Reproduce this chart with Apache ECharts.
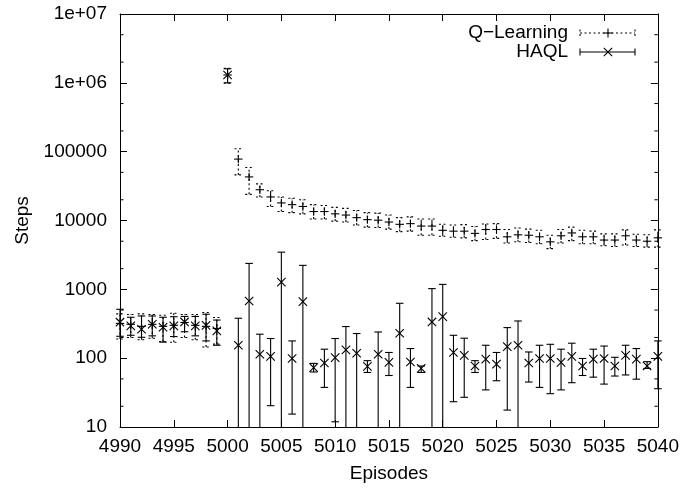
<!DOCTYPE html>
<html>
<head>
<meta charset="utf-8">
<title>Steps per episode</title>
<script src="https://cdn.jsdelivr.net/npm/echarts@6/dist/echarts.min.js"></script>
<style>
  html, body { margin: 0; padding: 0; background: #fff; }
  #chart { width: 682px; height: 488px; }
</style>
</head>
<body>
<div id="chart"></div>
<script>
// episodes on the x axis
const episodes = [
  4990, 4991, 4992, 4993, 4994, 4995, 4996, 4997, 4998, 4999,
  5000, 5001, 5002, 5003, 5004, 5005, 5006, 5007, 5008, 5009,
  5010, 5011, 5012, 5013, 5014, 5015, 5016, 5017, 5018, 5019,
  5020, 5021, 5022, 5023, 5024, 5025, 5026, 5027, 5028, 5029,
  5030, 5031, 5032, 5033, 5034, 5035, 5036, 5037, 5038, 5039,
  5040
]

// Q-Learning: mean steps and error bar ends
const qMean = [
  320, 310, 290, 310, 290, 300, 330, 300, 290, 270,
  1300000, 78000, 43000, 28000, 22000, 18000, 17000, 16000, 13500, 13500,
  12500, 12000, 11000, 10300, 10100, 9500, 8800, 9000, 8300, 8300,
  7200, 7000, 7000, 6500, 7400, 7400, 5800, 6200, 6100, 5800,
  4900, 6000, 6600, 5800, 5800, 5200, 5200, 6000, 5200, 5000,
  5600
]
const qLow = [
  190, 200, 185, 195, 175, 170, 200, 185, 145, 160,
  990000, 46000, 24000, 22000, 16000, 13500, 13000, 12500, 10500, 10500,
  9800, 9500, 8600, 8000, 7900, 7500, 6900, 7000, 6100, 6100,
  5900, 5700, 5600, 5100, 5300, 5500, 4700, 4900, 4800, 4600,
  3900, 4700, 5100, 4600, 4600, 4300, 4200, 4400, 4200, 4100,
  4100
]
const qHigh = [
  440, 430, 440, 430, 420, 450, 430, 430, 460, 390,
  1630000, 110000, 59000, 34000, 27000, 22000, 21000, 20000, 17000, 16500,
  15500, 15000, 14000, 13000, 12800, 12000, 11000, 11300, 10500, 10500,
  8800, 8600, 8700, 8200, 8900, 9000, 7400, 7800, 7500, 7200,
  6100, 7400, 8000, 7200, 7000, 6400, 6400, 7300, 6300, 6200,
  7300
]

// HAQL: mean steps and error bar ends (0 = runs below the plotted range)
const haqlMean = [
  333, 294, 263, 311, 281, 294, 336, 294, 300, 249,
  1300000, 154, 677, 114, 106, 1275, 99, 663, 73, 85,
  102, 132, 118, 76, 114, 87, 230, 88, 71, 336,
  402, 121, 110, 77, 97, 82, 147, 154, 85, 99,
  99, 87, 106, 77, 97, 99, 77, 110, 97, 77,
  106
]
const haqlLow = [
  208, 215, 201, 211, 171, 206, 242, 211, 178, 154,
  1000000, 0, 0, 0, 20.4, 0, 15.4, 0, 63, 37.6,
  11.9, 0, 0, 62, 0, 56, 0, 37.6, 62, 0,
  0, 23.3, 27, 62, 34.6, 47, 17.6, 0, 45, 37.6,
  30.5, 34.6, 44, 56, 53, 42, 55, 57, 49.5, 71,
  36
]
const haqlHigh = [
  513, 393, 410, 410, 393, 400, 404, 404, 435, 358,
  1600000, 380, 2380, 223, 193, 3470, 178, 2230, 84, 135,
  193, 288, 228, 92, 240, 121, 627, 138, 77, 1024,
  1180, 215, 195, 92, 154, 121, 278, 347, 123, 154,
  159, 135, 165, 99, 135, 150, 103, 154, 138, 89,
  178
]

// y axis ticks (log scale)
const yTicks = [10, 100, 1000, 10000, 100000, 1000000, 10000000]
const yLabels = ['10', '100', '1000', '10000', '100000', '1e+06', '1e+07']
const yMinorTicks = [20, 50, 200, 500, 2000, 5000, 20000, 50000, 200000, 500000, 2000000, 5000000]

const Y_MIN = yTicks[0]
const Y_MAX = yTicks[yTicks.length - 1]
const FONT = 'Liberation Sans, Arial, Helvetica, sans-serif'
const FONT_SIZE = 19

const chart = echarts.init(document.getElementById('chart'), null, { renderer: 'canvas' })

// error bar + marker drawn with the axes' own coord()
const errorBar = (marker, dash) => (params, api) => {
  const x = api.value(0)
  const low = api.value(2)
  const high = api.value(3)
  const mid = api.coord([x, api.value(1)])
  const pLo = api.coord([x, Math.max(low, Y_MIN)])
  const pHi = api.coord([x, Math.min(high, Y_MAX)])
  const cap = 3.8
  const m = 4.2
  const barStyle = { stroke: '#000', lineWidth: 1.1, lineDash: dash }
  const markStyle = { stroke: '#000', lineWidth: 1.1 }
  const children = [
    { type: 'line', shape: { x1: pLo[0], y1: pLo[1], x2: pHi[0], y2: pHi[1] }, style: barStyle }
  ]
  if (high <= Y_MAX) {
    children.push({ type: 'line', shape: { x1: pHi[0] - cap, y1: pHi[1], x2: pHi[0] + cap, y2: pHi[1] }, style: barStyle })
  }
  if (low >= Y_MIN) {
    children.push({ type: 'line', shape: { x1: pLo[0] - cap, y1: pLo[1], x2: pLo[0] + cap, y2: pLo[1] }, style: barStyle })
  }
  if (marker === 'plus') {
    children.push({ type: 'line', shape: { x1: mid[0] - m, y1: mid[1], x2: mid[0] + m, y2: mid[1] }, style: markStyle })
    children.push({ type: 'line', shape: { x1: mid[0], y1: mid[1] - m, x2: mid[0], y2: mid[1] + m }, style: markStyle })
  } else {
    children.push({ type: 'line', shape: { x1: mid[0] - m, y1: mid[1] - m, x2: mid[0] + m, y2: mid[1] + m }, style: markStyle })
    children.push({ type: 'line', shape: { x1: mid[0] - m, y1: mid[1] + m, x2: mid[0] + m, y2: mid[1] - m }, style: markStyle })
  }
  return { type: 'group', children }
}

// minor ticks at 2 and 5 of each decade, on left and right border
const minorTick = (params, api) => {
  const left = api.coord([episodes[0], api.value(1)])
  const right = api.coord([episodes[episodes.length - 1], api.value(1)])
  const len = 3.5
  const style = { stroke: '#000', lineWidth: 1 }
  return {
    type: 'group',
    children: [
      { type: 'line', shape: { x1: left[0], y1: left[1], x2: left[0] + len, y2: left[1] }, style },
      { type: 'line', shape: { x1: right[0] - len, y1: right[1], x2: right[0], y2: right[1] }, style }
    ]
  }
}

const qData = episodes.map((e, i) => [e, qMean[i], qLow[i], qHigh[i]])
const haqlData = episodes.map((e, i) => [e, haqlMean[i], haqlLow[i], haqlHigh[i]])

const axisLineStyle = { color: '#000', width: 1 }
const labelStyle = { color: '#000', fontSize: FONT_SIZE, fontFamily: FONT }

const option = {
  animation: false,
  backgroundColor: '#fff',
  grid: { left: 120, right: 24, top: 14, bottom: 60, containLabel: false },
  xAxis: [
    {
      type: 'value',
      min: 4990,
      max: 5040,
      interval: 5,
      position: 'bottom',
      name: 'Episodes',
      nameLocation: 'middle',
      nameGap: 37,
      nameTextStyle: { color: '#000', fontSize: FONT_SIZE, fontFamily: FONT },
      axisLine: { lineStyle: axisLineStyle },
      axisTick: { inside: true, length: 7, lineStyle: axisLineStyle },
      axisLabel: { ...labelStyle, margin: 10, formatter: v => String(v) },
      splitLine: { show: false }
    },
    {
      type: 'value',
      min: 4990,
      max: 5040,
      interval: 5,
      position: 'top',
      axisLine: { lineStyle: axisLineStyle },
      axisTick: { inside: true, length: 7, lineStyle: axisLineStyle },
      axisLabel: { show: false },
      splitLine: { show: false }
    }
  ],
  yAxis: [
    {
      type: 'log',
      logBase: 10,
      min: Y_MIN,
      max: Y_MAX,
      splitNumber: 6,
      position: 'left',
      name: 'Steps',
      nameLocation: 'middle',
      nameGap: 88,
      nameTextStyle: { color: '#000', fontSize: FONT_SIZE, fontFamily: FONT },
      axisLine: { show: true, lineStyle: axisLineStyle },
      axisTick: { show: true, inside: true, length: 7, lineStyle: axisLineStyle },
      axisLabel: {
        ...labelStyle,
        margin: 13,
        formatter: v => {
          const i = Math.round(Math.log10(v)) - 1
          return yLabels[i] !== undefined ? yLabels[i] : ''
        }
      },
      splitLine: { show: false }
    },
    {
      type: 'log',
      logBase: 10,
      min: Y_MIN,
      max: Y_MAX,
      splitNumber: 6,
      position: 'right',
      axisLine: { show: true, lineStyle: axisLineStyle },
      axisTick: { show: true, inside: true, length: 7, lineStyle: axisLineStyle },
      axisLabel: { show: false },
      splitLine: { show: false }
    }
  ],
  series: [
    {
      name: 'minor',
      type: 'custom',
      silent: true,
      renderItem: minorTick,
      data: yMinorTicks.map(v => [episodes[0], v])
    },
    {
      name: 'Q\u2212Learning',
      type: 'custom',
      silent: true,
      renderItem: errorBar('plus', [2, 2.5]),
      data: qData,
      z: 3
    },
    {
      name: 'HAQL',
      type: 'custom',
      silent: true,
      renderItem: errorBar('cross', null),
      data: haqlData,
      z: 4
    }
  ],
  // key in the top right corner, drawn like the plot's own samples
  graphic: [
    { type: 'text', right: 682 - 568, top: 23.5, style: { text: 'Q\u2212Learning', fill: '#000', font: FONT_SIZE + 'px ' + FONT } },
    { type: 'text', right: 682 - 568, top: 42.5, style: { text: 'HAQL', fill: '#000', font: FONT_SIZE + 'px ' + FONT } },
    { type: 'line', shape: { x1: 580, y1: 33, x2: 635, y2: 33 }, style: { stroke: '#000', lineWidth: 1.1, lineDash: [2, 2.5] } },
    { type: 'line', shape: { x1: 580, y1: 29.5, x2: 580, y2: 36.5 }, style: { stroke: '#000', lineWidth: 1.1, lineDash: [2, 2.5] } },
    { type: 'line', shape: { x1: 635, y1: 29.5, x2: 635, y2: 36.5 }, style: { stroke: '#000', lineWidth: 1.1, lineDash: [2, 2.5] } },
    { type: 'line', shape: { x1: 603.5, y1: 33, x2: 612.5, y2: 33 }, style: { stroke: '#000', lineWidth: 1.1 } },
    { type: 'line', shape: { x1: 608, y1: 28.5, x2: 608, y2: 37.5 }, style: { stroke: '#000', lineWidth: 1.1 } },
    { type: 'line', shape: { x1: 580, y1: 52, x2: 635, y2: 52 }, style: { stroke: '#000', lineWidth: 1.1 } },
    { type: 'line', shape: { x1: 580, y1: 48.5, x2: 580, y2: 55.5 }, style: { stroke: '#000', lineWidth: 1.1 } },
    { type: 'line', shape: { x1: 635, y1: 48.5, x2: 635, y2: 55.5 }, style: { stroke: '#000', lineWidth: 1.1 } },
    { type: 'line', shape: { x1: 603.8, y1: 47.8, x2: 612.2, y2: 56.2 }, style: { stroke: '#000', lineWidth: 1.1 } },
    { type: 'line', shape: { x1: 603.8, y1: 56.2, x2: 612.2, y2: 47.8 }, style: { stroke: '#000', lineWidth: 1.1 } }
  ]
}

chart.setOption(option)
</script>
</body>
</html>
